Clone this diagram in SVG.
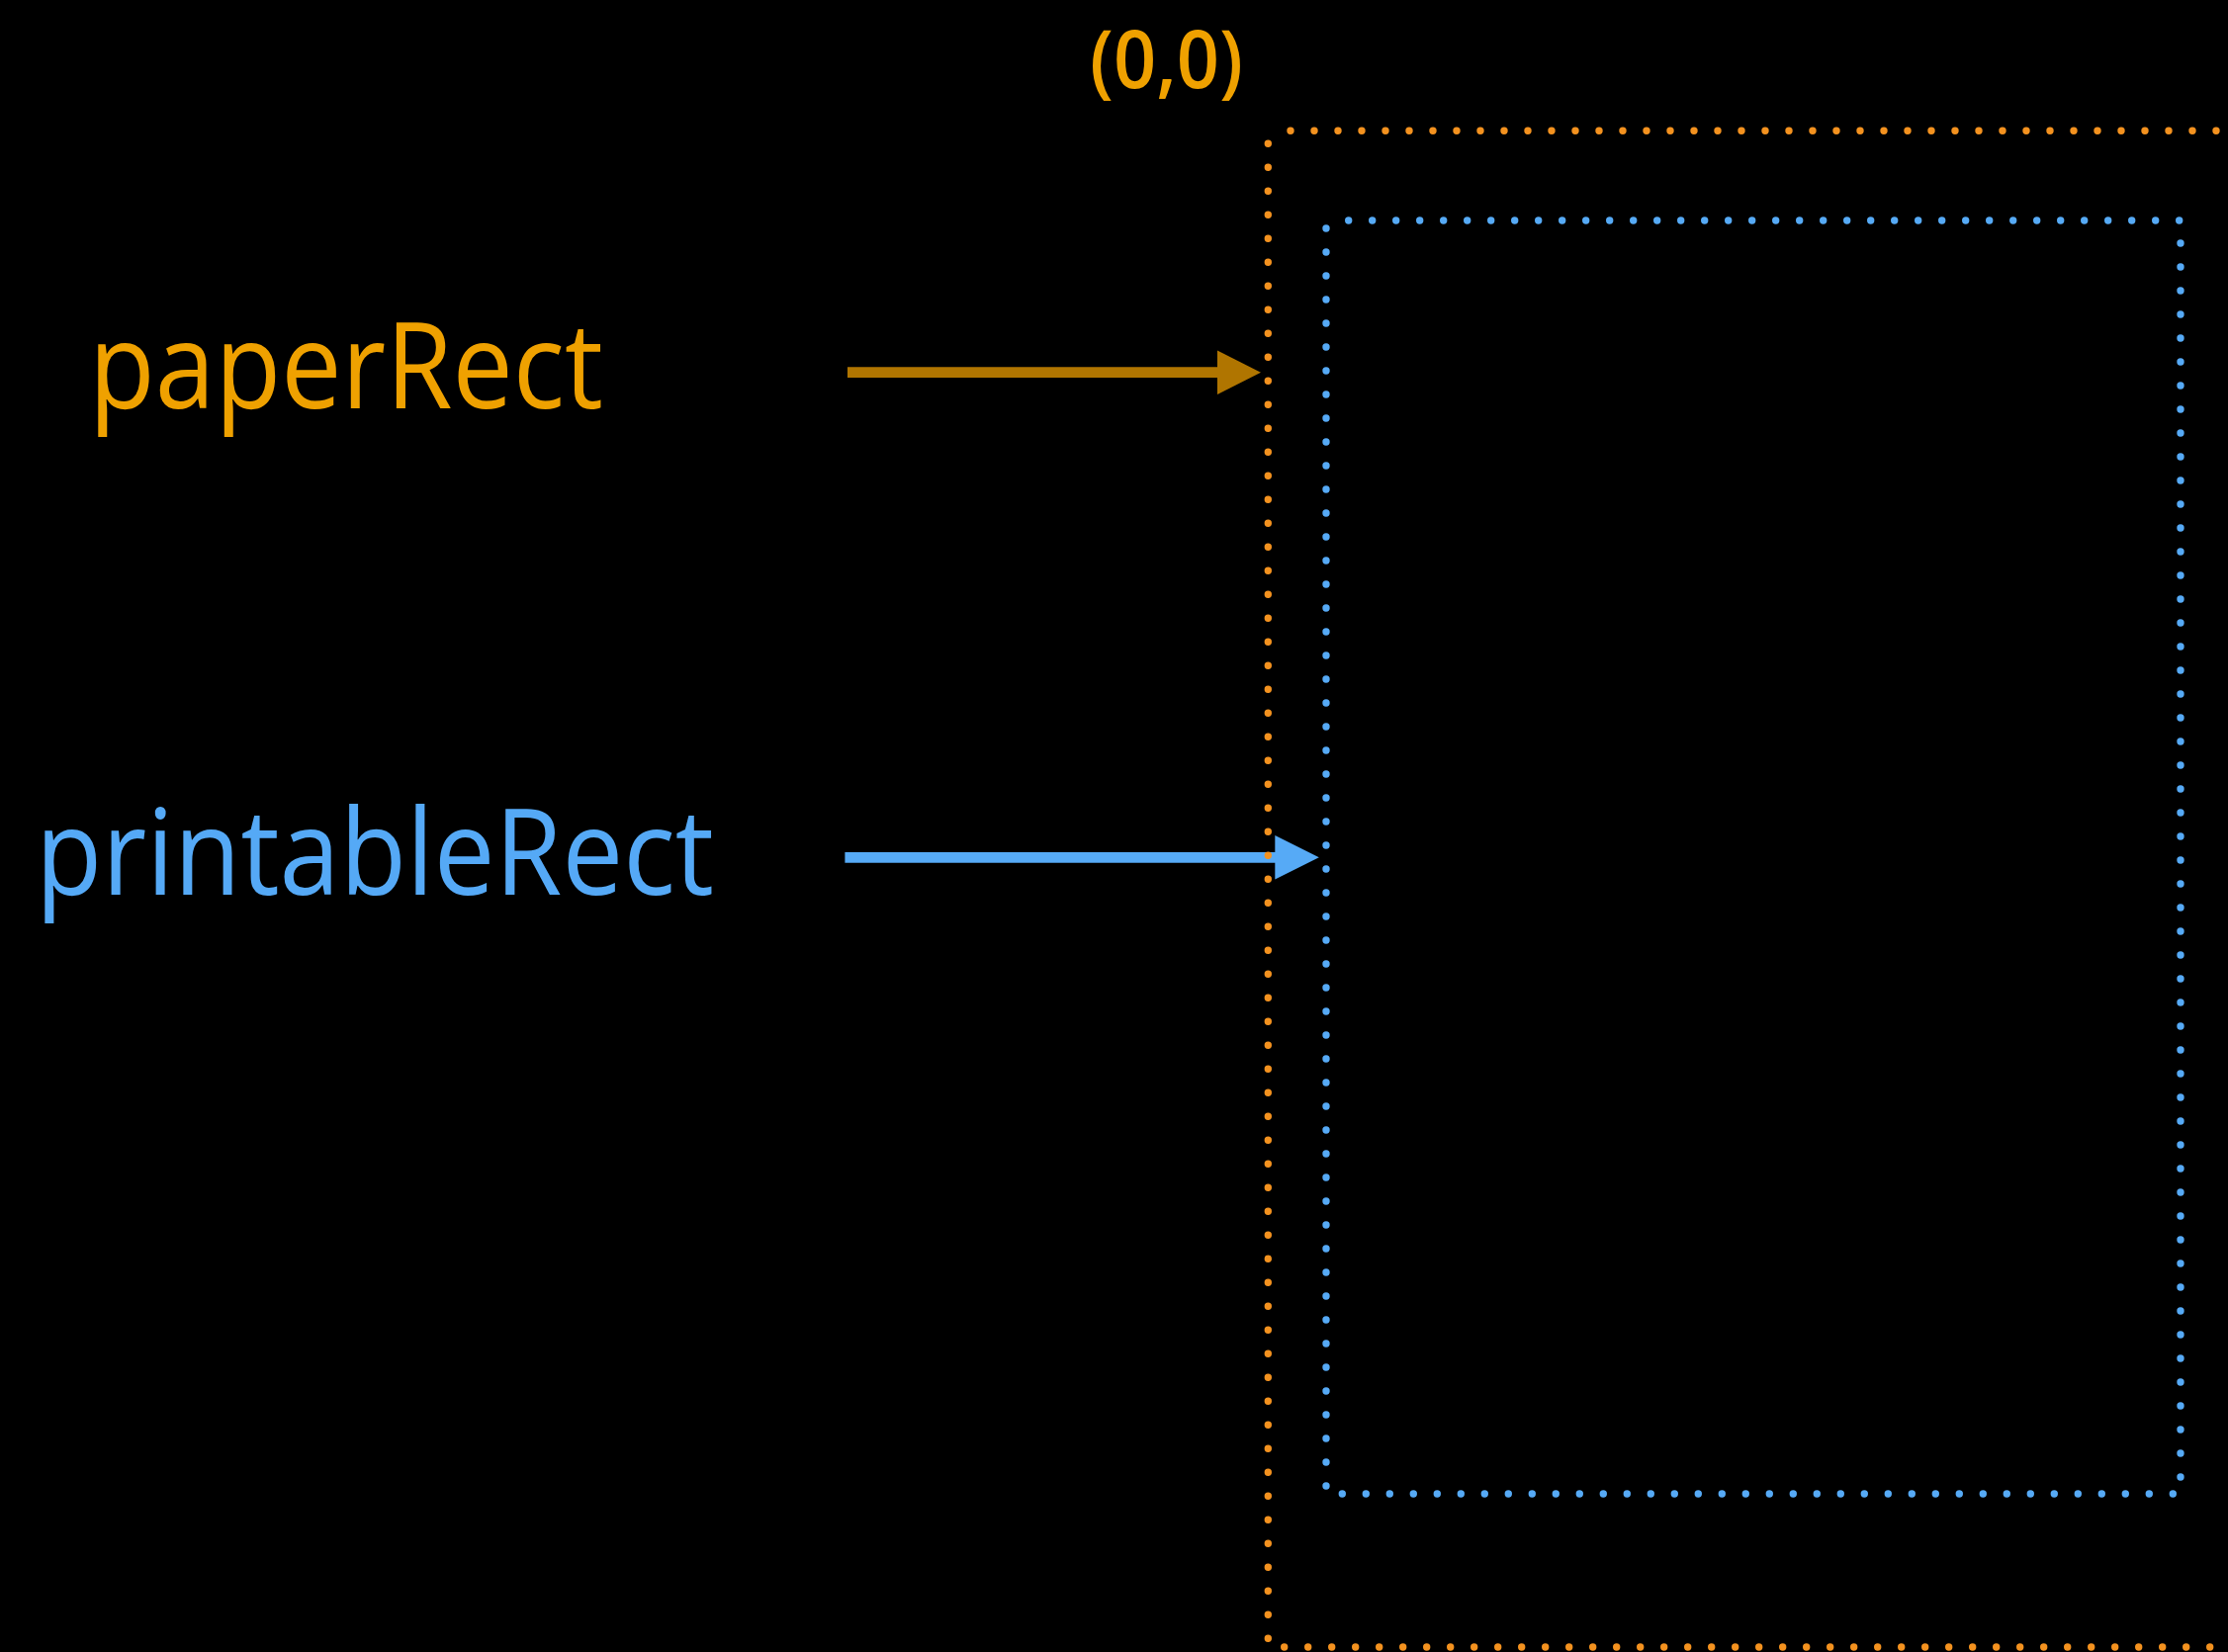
<svg xmlns="http://www.w3.org/2000/svg" width="2253" height="1671" viewBox="0 0 2253 1671">
<style>
.lbl{font-family:"Open Sans","Liberation Sans",sans-serif;}
.or{fill:#EFA100;}
.bl{fill:#55A9F6;}
.dot{fill:none;stroke-width:7.4;stroke-linecap:round;stroke-dasharray:0 24;}
.dor{stroke:#F4921F;}
.dbl{stroke:#56AAF6;}
</style>
<defs>
<marker id="hOr" markerUnits="userSpaceOnUse" markerWidth="46" markerHeight="46" refX="1" refY="22.3" orient="auto" viewBox="0 0 46 46">
<path d="M0,0 L44,22.3 L0,44.7 z" fill="#B07500"/>
</marker>
<marker id="hBl" markerUnits="userSpaceOnUse" markerWidth="46" markerHeight="46" refX="1" refY="22.2" orient="auto" viewBox="0 0 46 46">
<path d="M0,0 L44.5,22.2 L0,44.4 z" fill="#56AAF6"/>
</marker>
</defs>
<rect x="0" y="0" width="2253" height="1671" fill="#000"/>
<g id="label-origin">
<text class="lbl or" x="1102" y="89" font-size="82" font-weight="600" textLength="155" lengthAdjust="spacingAndGlyphs">(0,0)</text>
</g>
<g id="label-paperRect">
<text class="lbl or" x="90" y="413" font-size="120" textLength="520" lengthAdjust="spacingAndGlyphs">paperRect</text>
</g>
<g id="label-printableRect">
<text class="lbl bl" x="36" y="905" font-size="120" textLength="686" lengthAdjust="spacingAndGlyphs">printableRect</text>
</g>
<g id="connectors">
<line x1="857" y1="376.7" x2="1232" y2="376.7" stroke="#B07500" stroke-width="10.7" marker-end="url(#hOr)"/>
<line x1="854.4" y1="867.3" x2="1290.3" y2="867.3" stroke="#56AAF6" stroke-width="10.7" marker-end="url(#hBl)"/>
</g>
<g id="printableRect">
<line class="dot dbl" x1="1363.7" y1="223" x2="2204.5" y2="223"/>
<line class="dot dbl" x1="2205" y1="246" x2="2205" y2="1494.5"/>
<line class="dot dbl" x1="1357.3" y1="1511" x2="2198" y2="1511"/>
<line class="dot dbl" x1="1341" y1="231" x2="1341" y2="1503.5"/>
</g>
<g id="paperRect">
<line class="dot dor" x1="1305" y1="132.3" x2="2270" y2="132.3"/>
<line class="dot dor" x1="1282.3" y1="145.3" x2="1282.3" y2="1658.5"/>
<line class="dot dor" x1="1298.7" y1="1666" x2="2270" y2="1666"/>
</g>
</svg>
